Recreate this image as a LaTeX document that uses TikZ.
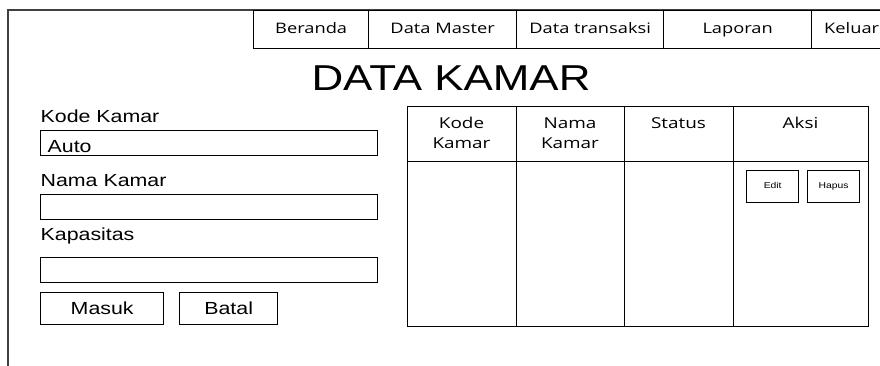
\documentclass[tikz,border=0pt]{standalone}
\usepackage{fontspec}
\setmainfont{Liberation Sans}
\newfontfamily\arialx[FakeStretch=1.22]{Liberation Sans}
\newfontfamily\uix[FakeStretch=1.26]{Open Sans}
\begin{document}
\begin{tikzpicture}[x=1pt,y=-1pt,line width=1.35pt,
  cell/.style={draw,rectangle,inner sep=0pt,anchor=north west},
  navbox/.style={cell,minimum height=38pt,text height=10.5pt,text depth=3.5pt,font=\uix\fontsize{14.5}{17}\selectfont},
  field/.style={cell,minimum width=337pt,minimum height=25pt},
  lbl/.style={anchor=base west,inner sep=0pt,font=\arialx\fontsize{17.5}{20}\selectfont},
  btn/.style={cell,minimum height=32pt,text height=12.5pt,text depth=0pt,font=\arialx\fontsize{17.5}{20}\selectfont},
  smallbtn/.style={cell,minimum width=52pt,minimum height=32pt,text height=6.5pt,text depth=2pt,font=\arialx\fontsize{8.5}{10}\selectfont},
  hcell/.style={cell,minimum height=55pt},
  bcell/.style={cell,minimum height=165pt},
  htext/.style={anchor=base,inner sep=0pt,align=center,font=\uix\fontsize{15}{20}\selectfont}]
\useasboundingbox (0,0) rectangle (880,365);
\clip (0,0) rectangle (880,365);
% outer frame
\draw[line width=1.6pt,black!75] (8,366) -- (8,10) -- (881,10);
% navigation
\node[navbox,minimum width=115pt] (nav1) at (253,10) {Beranda};
\node[navbox,minimum width=148pt] (nav2) at (368,10) {Data Master};
\node[navbox,minimum width=147pt] (nav3) at (516,10) {Data transaksi};
\node[navbox,minimum width=148pt] (nav4) at (663,10) {Laporan};
\node[navbox,minimum width=80pt] (nav5) at (811,10) {Keluar};
% title
\node[anchor=base,inner sep=0pt,font=\arialx\fontsize{36}{40}\selectfont] (title) at (451,90) {DATA KAMAR};
% form
\node[lbl] (lkode) at (40,122) {Kode Kamar};
\node[field] (fkode) at (40,130) {};
\node[lbl] (auto) at (47,152) {Auto};
\node[lbl] (lnama) at (40,186) {Nama Kamar};
\node[field] (fnama) at (40,194) {};
\node[lbl] (lkap) at (40,240) {Kapasitas};
\node[field] (fkap) at (40,257) {};
\node[btn,minimum width=123pt] (masuk) at (40,292) {Masuk};
\node[btn,minimum width=98pt] (batal) at (179,292) {Batal};
% table header
\node[hcell,minimum width=109pt] (h1) at (407,106) {};
\node[hcell,minimum width=108pt] (h2) at (516,106) {};
\node[hcell,minimum width=109pt] (h3) at (624,106) {};
\node[hcell,minimum width=135pt] (h4) at (733,106) {};
\node[bcell,minimum width=109pt] (b1) at (407,161) {};
\node[bcell,minimum width=108pt] (b2) at (516,161) {};
\node[bcell,minimum width=109pt] (b3) at (624,161) {};
\node[bcell,minimum width=135pt] (b4) at (733,161) {};
\node[htext] (t1) at (461.5,148) {Kode\\Kamar};
\node[htext] (t2) at (570,148) {Nama\\Kamar};
\node[htext] (t3) at (678.5,128) {Status};
\node[htext] (t4) at (800.5,128) {Aksi};
% action buttons
\node[smallbtn] (edit) at (746,170) {Edit};
\node[smallbtn] (hapus) at (807,170) {Hapus};
\end{tikzpicture}
\end{document}
